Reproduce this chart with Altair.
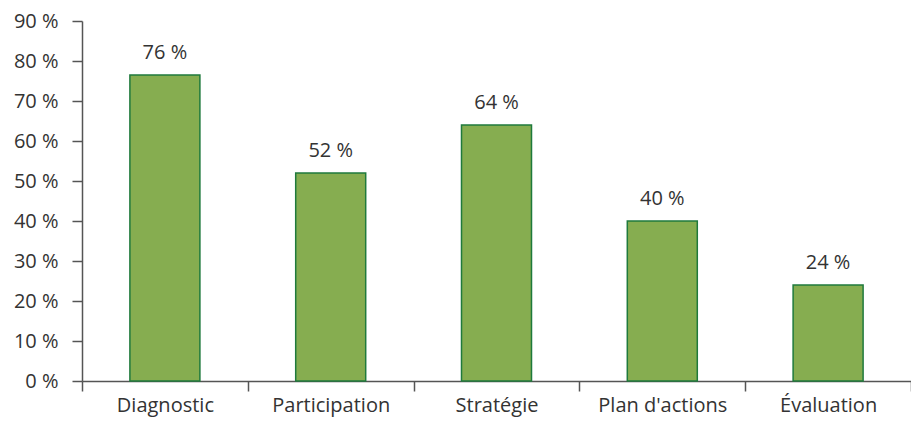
import altair as alt
import pandas as pd

categories = ["Diagnostic", "Participation", "Stratégie", "Plan d'actions", "Évaluation"]
values = [76.5, 52, 64, 40, 24]
labels = ["76 %", "52 %", "64 %", "40 %", "24 %"]
y_ticks = [0, 10, 20, 30, 40, 50, 60, 70, 80, 90]

df = pd.DataFrame({"cat": categories, "val": values, "lab": labels})

FONT = "Open Sans"
FS = 20
AX = "#555555"
TXT = "#333333"

x = alt.X("cat:N", sort=categories, title=None,
          scale=alt.Scale(paddingInner=0, paddingOuter=0),
          axis=alt.Axis(labelAngle=0, tickBand="extent", tickSize=10, tickColor=AX,
                        tickWidth=1.5, domainColor=AX, domainWidth=1.5,
                        labelFont=FONT, labelFontSize=FS, labelColor=TXT,
                        labelPadding=4, grid=False, labelOverlap=False))
y = alt.Y("val:Q", title=None,
          scale=alt.Scale(domain=[0, 90], nice=False),
          axis=alt.Axis(values=y_ticks, labelExpr="datum.value + ' %'",
                        tickSize=10, tickColor=AX, tickWidth=1.5, domainColor=AX,
                        domainWidth=1.5, labelFont=FONT, labelFontSize=FS,
                        labelColor=TXT, labelPadding=14, grid=False,
                        labelOverlap=False, labelFlush=False))

base = alt.Chart(df).encode(x=x, y=y)
bars = base.mark_bar(size=70, color="#86ad50", stroke="#1f7a3c", strokeWidth=1.5)
text = base.mark_text(font=FONT, fontSize=FS, color=TXT, baseline="alphabetic",
                      dy=-16).encode(text="lab:N")

chart = (bars + text).properties(
    width=829, height=360,
    autosize=alt.AutoSizeParams(type="none"),
    padding={"left": 74, "top": 13, "right": 0, "bottom": 42},
).configure_view(stroke=None)
chart.save("out.html", embed_options={"renderer": "svg", "actions": False})
